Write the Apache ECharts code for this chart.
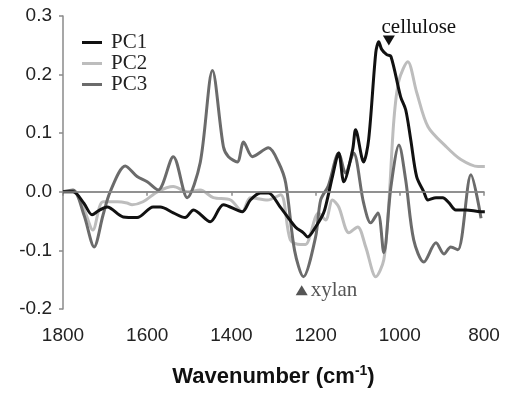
<!DOCTYPE html>
<html>
<head>
<meta charset="utf-8">
<script src="https://cdn.jsdelivr.net/npm/echarts@6/dist/echarts.min.js"></script>
<style>
  html, body { margin: 0; padding: 0; background: #fff; }
  #chart { width: 506px; height: 393px; }
</style>
</head>
<body>
<div id="chart"></div>
<script>
// wavenumbers (cm-1) and loadings
const pc1Wave = [1800, 1776, 1750, 1731, 1715, 1695, 1657, 1624, 1586, 1569, 1538, 1510, 1490, 1450, 1419, 1374, 1355, 1331, 1312, 1283, 1248, 1229, 1219, 1200, 1181, 1171, 1160, 1145, 1133, 1112, 1105, 1086, 1074, 1057, 1050, 1043, 1031, 1021, 998, 986, 974, 960, 943, 933, 914, 898, 883, 867, 843, 807, 798];
const pc1Val = [0, 0, -0.02, -0.039, -0.032, -0.026, -0.043, -0.044, -0.026, -0.026, -0.036, -0.044, -0.031, -0.051, -0.022, -0.034, -0.014, -0.002, -0.002, -0.027, -0.06, -0.07, -0.077, -0.06, -0.036, -0.009, 0.026, 0.066, 0.017, 0.072, 0.106, 0.051, 0.089, 0.238, 0.256, 0.243, 0.234, 0.231, 0.162, 0.14, 0.089, 0.026, 0, -0.014, -0.01, -0.01, -0.019, -0.031, -0.031, -0.034, -0.034];

const pc2Wave = [1800, 1776, 1750, 1729, 1705, 1671, 1648, 1636, 1610, 1576, 1538, 1505, 1474, 1443, 1402, 1374, 1355, 1314, 1283, 1260, 1236, 1224, 1193, 1176, 1160, 1145, 1121, 1100, 1081, 1057, 1038, 1026, 1014, 1002, 981, 960, 933, 890, 855, 814, 798];
const pc2Val = [0, 0, -0.03, -0.065, -0.017, -0.017, -0.019, -0.022, -0.017, 0, 0.009, 0, 0.003, -0.01, -0.014, -0.034, -0.01, -0.014, -0.005, -0.082, -0.09, -0.09, -0.036, -0.048, -0.014, -0.026, -0.07, -0.06, -0.094, -0.145, -0.116, -0.019, 0.123, 0.19, 0.222, 0.17, 0.111, 0.077, 0.055, 0.043, 0.043];

const pc3Wave = [1800, 1776, 1750, 1726, 1705, 1688, 1652, 1624, 1600, 1574, 1538, 1505, 1474, 1445, 1419, 1407, 1386, 1371, 1350, 1312, 1288, 1271, 1250, 1229, 1200, 1188, 1170, 1145, 1129, 1110, 1086, 1069, 1052, 1038, 1021, 1002, 986, 967, 943, 914, 895, 879, 862, 831, 807];
const pc3Val = [0, 0.003, -0.04, -0.094, -0.04, 0, 0.044, 0.026, 0.017, 0.003, 0.06, -0.01, 0.05, 0.207, 0.077, 0.06, 0.051, 0.085, 0.06, 0.075, 0.05, 0.015, -0.1, -0.145, -0.077, -0.014, 0.01, 0.066, 0.032, 0.066, -0.019, -0.053, -0.036, -0.104, 0.009, 0.08, 0.02, -0.082, -0.12, -0.087, -0.106, -0.094, -0.099, 0.029, -0.045];

const seriesNames = ['PC1', 'PC2', 'PC3'];
const seriesColors = ['#111111', '#bdbdbd', '#6b6b6b'];

const xTicks = [1800, 1600, 1400, 1200, 1000, 800];
const yTicks = [-0.2, -0.1, 0.0, 0.1, 0.2, 0.3];

// band markers: [wavenumber, loading]
const cellulosePos = [1026, 0.258];
const xylanPos = [1233, -0.168];

const zip = (w, v) => w.map((x, i) => [x, v[i]]);

const chart = echarts.init(document.getElementById('chart'));

const serif = 'Liberation Serif';
const sans = 'Liberation Sans';

const option = {
  animation: false,
  grid: { left: 63, right: 22, top: 16, bottom: 84, outerBoundsMode: 'none', containLabel: false },
  legend: {
    data: seriesNames,
    orient: 'vertical',
    left: 77,
    top: 27,
    icon: 'rect',
    itemWidth: 20,
    itemHeight: 3,
    itemGap: 0,
    textStyle: {
      fontFamily: serif,
      fontSize: 21,
      color: '#222',
      lineHeight: 20,
      padding: [0, 0, 0, 4]
    }
  },
  xAxis: {
    type: 'value',
    inverse: true,
    min: xTicks[xTicks.length - 1],
    max: xTicks[0],
    interval: 200,
    splitLine: { show: false },
    axisLine: { lineStyle: { color: '#8a8a8a', width: 1.5 } },
    axisTick: { show: true, length: 4, lineStyle: { color: '#8a8a8a', width: 1.5 } },
    axisLabel: {
      fontFamily: sans, fontSize: 19, color: '#222', margin: 17,
      formatter: v => String(v)
    },
    name: '{b|Wavenumber (cm}{s|-1}{b|)}',
    nameLocation: 'middle',
    nameGap: 55,
    nameTextStyle: {
      rich: {
        b: { fontFamily: sans, fontSize: 22, fontWeight: 'bold', color: '#111' },
        s: { fontFamily: sans, fontSize: 14, fontWeight: 'bold', color: '#111', verticalAlign: 'top', padding: [0, 0, 12, 0] }
      }
    }
  },
  yAxis: {
    type: 'value',
    min: yTicks[0],
    max: yTicks[yTicks.length - 1],
    interval: 0.1,
    splitLine: { show: false },
    axisLine: { show: true, onZero: false, lineStyle: { color: '#8a8a8a', width: 1.5 } },
    axisTick: { show: true, length: 4, lineStyle: { color: '#8a8a8a', width: 1.5 } },
    axisLabel: {
      fontFamily: sans, fontSize: 19, color: '#222', margin: 11,
      formatter: v => v.toFixed(1)
    }
  },
  series: [
    {
      name: 'PC1',
      type: 'line',
      data: zip(pc1Wave, pc1Val),
      smooth: 0.3,
      symbol: 'none',
      z: 4,
      lineStyle: { color: seriesColors[0], width: 3 },
      itemStyle: { color: seriesColors[0] },
      markPoint: {
        silent: true,
        data: [{
          coord: cellulosePos,
          symbol: 'triangle',
          symbolRotate: 180,
          symbolSize: [12, 10],
          itemStyle: { color: '#111' },
          label: {
            show: true,
            position: 'top',
            distance: 0,
            offset: [30, 2],
            formatter: 'cellulose',
            fontFamily: serif,
            fontSize: 21,
            color: '#111'
          }
        }]
      }
    },
    {
      name: 'PC2',
      type: 'line',
      data: zip(pc2Wave, pc2Val),
      smooth: 0.3,
      symbol: 'none',
      z: 2,
      lineStyle: { color: seriesColors[1], width: 3 },
      itemStyle: { color: seriesColors[1] },
      markLine: {
        silent: true,
        symbol: 'none',
        label: { show: false },
        lineStyle: { color: '#8a8a8a', width: 1.5, type: 'solid' },
        data: [{ yAxis: 0 }]
      }
    },
    {
      name: 'PC3',
      type: 'line',
      data: zip(pc3Wave, pc3Val),
      smooth: 0.3,
      symbol: 'none',
      z: 3,
      lineStyle: { color: seriesColors[2], width: 3 },
      itemStyle: { color: seriesColors[2] },
      markPoint: {
        silent: true,
        data: [{
          coord: xylanPos,
          symbol: 'triangle',
          symbolSize: [12, 10],
          itemStyle: { color: '#555' },
          label: {
            show: true,
            position: 'right',
            distance: 3,
            formatter: 'xylan',
            fontFamily: serif,
            fontSize: 21,
            color: '#555'
          }
        }]
      }
    }
  ]
};

chart.setOption(option);
</script>
</body>
</html>
